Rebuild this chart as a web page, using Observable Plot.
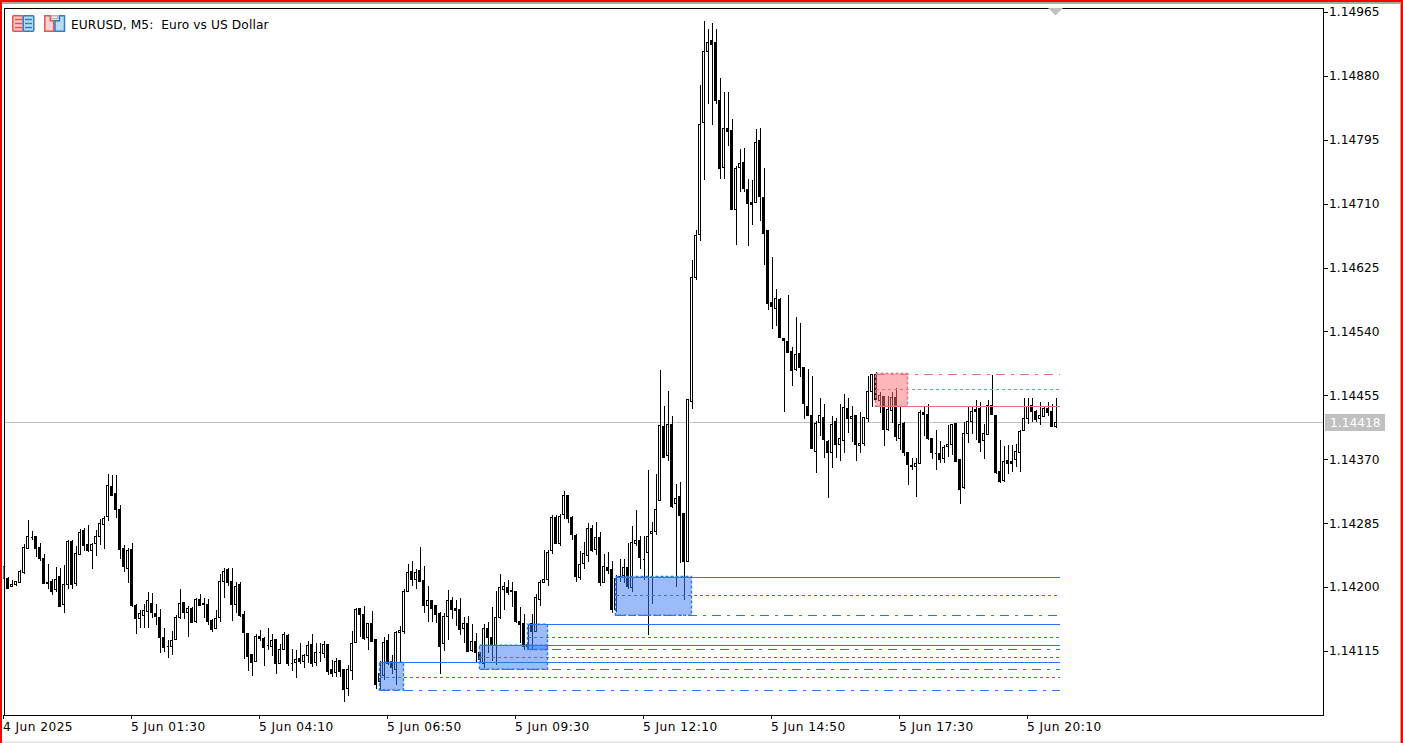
<!DOCTYPE html>
<html><head><meta charset="utf-8">
<style>
html,body{margin:0;padding:0;background:#fff;overflow:hidden}
#wrap{position:relative;width:1403px;height:743px;font-family:"DejaVu Sans",sans-serif}
#wrap svg{display:block}
.edge{position:absolute}
#title{position:absolute;left:71px;top:16.500px;font:12.2px/16px "DejaVu Sans",sans-serif;letter-spacing:.1px;color:#000;white-space:pre}
#icons{position:absolute;left:10px;top:13px}
#chart [aria-label="x-axis tick label"] text{letter-spacing:.45px}
</style>
<script src="https://cdn.jsdelivr.net/npm/d3@7"></script>
<script src="https://cdn.jsdelivr.net/npm/@observablehq/plot@0.6"></script>
</head><body>
<div id="wrap">
<div id="chart"></div>
<div class="edge" style="left:0;top:0;width:1403px;height:2px;background:#f00"></div>
<div class="edge" style="left:0;top:2px;width:1403px;height:2px;background:#a8a8a8"></div>
<div class="edge" style="left:0;top:0;width:2px;height:743px;background:#f00"></div>
<div class="edge" style="left:1401px;top:0;width:2px;height:743px;background:#f00"></div>
<div class="edge" style="left:1400px;top:2px;width:1px;height:741px;background:#a8a8a8"></div>
<div class="edge" style="left:2px;top:741px;width:1398px;height:2px;background:#e8e8e8"></div>
<svg id="icons" width="58" height="22" viewBox="0 0 58 22">
  <rect x="2.800" y="2.800" width="10.500" height="15.400" rx="1" fill="#fbc9c9" stroke="#e8504f" stroke-width="1.500"/>
  <rect x="13.300" y="2.800" width="10.500" height="15.400" rx="1" fill="#bcdaf5" stroke="#2b7fc4" stroke-width="1.500"/>
  <path d="M5 6.500h7M5 10.500h7M5 14.500h7" stroke="#e8504f" stroke-width="1.300"/><path d="M15 6.500h7M15 10.500h7M15 14.500h7" stroke="#2b7fc4" stroke-width="1.300"/>
  <path d="M34.800 2.800h5.500v5h3.500v10.400h-9z" fill="#fbd2d2" stroke="#e8504f" stroke-width="1.500"/>
  <path d="M49.500 2.800h5v15.400h-9.500v-10.400h4.500z" fill="#bcdaf5" stroke="#2b7fc4" stroke-width="1.500"/>
  <rect x="41" y="2.800" width="7" height="3" fill="#eee" stroke="#999"/>
</svg>
<div id="title">EURUSD, M5:  Euro vs US Dollar</div>
</div>
<script>
// All prices in points (0.00001) above 1.14000
const basePrice = 1.14, pointSize = 1e-5;
const open = [
228,212,201,203,206,220,251,267,267,253,
238,206,207,197,214,177,204,260,205,243,
275,257,248,258,267,283,294,334,324,303,
251,225,250,176,158,162,167,178,165,160,
133,121,121,130,159,180,166,172,154,184,
178,177,155,145,160,208,224,208,177,203,
163,138,110,101,134,132,123,121,130,98,
117,136,99,100,105,101,109,123,100,113,
111,123,90,86,102,90,65,89,126,172,
163,133,152,130,74,82,129,101,91,139,
141,194,221,210,222,209,175,182,175,165,
125,161,182,171,170,145,152,115,127,113,
98,145,133,122,159,197,200,196,194,154,
151,121,151,141,184,206,210,248,292,258,
297,322,293,269,213,232,242,278,250,266,
206,226,223,170,214,215,226,200,258,262,
238,246,271,274,315,414,375,416,311,321,
298,234,447,612,669,818,913,927,925,847,
758,810,808,702,758,765,729,711,711,794,
718,674,578,570,582,531,526,514,490,511,
492,440,428,381,419,426,394,379,420,389,
395,438,424,428,388,391,424,460,483,448,
454,410,435,452,397,417,379,362,361,365,
432,429,398,379,378,371,387,390,417,370,
332,404,420,436,438,395,403,442,428,354,
342,368,367,370,379,408,424,441,434,424,
427,438,433,413];
const high = [
230,213,210,208,223,257,289,275,267,258,
244,231,211,227,225,229,263,262,255,277,
278,283,258,276,290,295,351,349,349,309,
256,252,258,178,169,178,194,192,177,171,
145,129,141,163,197,180,175,174,185,191,
186,184,158,170,218,225,226,226,207,207,
168,138,110,138,143,133,146,138,131,124,
140,138,118,116,126,111,128,138,126,125,
128,123,103,106,102,90,97,141,172,172,
175,152,168,130,102,133,138,109,142,148,
197,231,235,224,253,228,202,182,175,167,
166,196,187,183,185,160,162,151,139,113,
151,154,174,195,218,207,209,207,194,174,
164,151,164,191,210,249,249,296,296,297,
328,323,295,270,248,260,285,283,287,273,
244,247,235,216,237,237,259,281,303,268,
268,356,287,351,489,441,461,428,337,340,
298,450,635,675,868,953,942,950,942,877,
858,858,823,760,783,784,743,741,809,810,
757,674,639,597,585,531,589,519,559,551,
492,490,481,421,452,443,396,427,425,443,
457,451,441,428,433,426,481,483,486,459,
454,454,460,465,440,419,379,372,372,436,
439,444,398,409,394,389,416,416,417,370,
419,441,440,449,446,417,449,482,428,396,
388,389,389,390,409,452,452,452,435,446,
439,446,444,452];
const low = [
209,198,201,202,206,217,251,262,240,235,
205,198,189,194,174,166,198,198,201,243,
248,247,224,241,256,251,288,321,292,238,
220,206,174,137,145,145,146,159,150,112,
113,105,109,129,157,158,133,152,152,175,
159,150,140,145,154,185,201,155,165,160,
104,88,82,101,128,95,116,108,84,98,
117,95,88,79,98,92,99,94,95,100,
106,83,80,80,81,47,55,76,126,133,
129,116,127,65,62,76,96,84,70,101,
138,194,201,197,207,166,153,154,152,84,
115,130,158,148,136,125,113,114,100,99,
92,112,102,96,158,170,189,174,152,125,
116,118,116,141,175,206,201,244,257,254,
291,285,263,207,209,224,234,246,243,201,
206,217,165,167,207,206,197,193,255,224,
209,136,178,269,315,373,368,305,200,232,
183,234,437,608,661,742,843,814,843,743,
743,787,702,655,726,725,654,681,711,687,
628,569,543,547,531,433,512,468,488,480,
424,428,384,352,401,372,318,359,372,368,
379,405,393,368,379,387,419,440,449,432,
387,408,418,394,383,374,336,356,320,365,
401,396,370,356,365,365,373,376,367,310,
331,392,404,396,380,370,402,429,351,339,
340,351,353,360,353,408,417,420,420,415,
427,428,413,412];
const close = [
211,198,204,207,221,252,267,267,251,238,
205,205,194,210,174,204,260,204,244,273,
255,249,257,267,285,291,335,322,303,250,
227,249,176,158,165,169,182,166,161,133,
120,121,129,160,178,166,172,153,184,176,
177,154,144,158,208,221,206,177,201,162,
139,108,100,134,131,120,123,129,98,117,
137,98,99,103,101,109,122,99,113,113,
123,88,85,101,88,64,91,125,170,163,
131,152,128,71,85,126,98,93,140,142,
194,220,210,220,207,175,182,171,164,121,
161,182,170,169,143,152,114,128,113,103,
145,133,122,160,200,201,193,194,154,150,
121,124,141,186,206,210,246,293,258,294,
322,291,270,214,230,245,278,249,266,206,
227,222,170,212,213,226,201,259,262,240,
238,267,274,303,415,373,416,307,318,295,
234,450,612,668,815,913,925,922,847,757,
810,806,702,757,764,730,710,709,792,719,
670,577,573,584,532,528,512,488,510,492,
444,428,384,418,428,396,379,416,389,398,
439,424,427,389,391,426,460,483,449,455,
409,436,452,400,416,379,363,360,365,432,
429,397,379,379,370,386,390,416,367,330,
404,420,434,434,392,404,441,429,353,341,
367,364,365,381,407,424,440,433,423,428,
438,432,413,419];

// Time axis: bar number and its label
const timeBars = [0,32,64,96,128,160,192,224,256];
const timeLabels = ["4 Jun 2025","5 Jun 01:30","5 Jun 04:10","5 Jun 06:50","5 Jun 09:30","5 Jun 12:10","5 Jun 14:50","5 Jun 17:30","5 Jun 20:10"];
// Price axis
const priceTicks = [1.14965,1.1488,1.14795,1.1471,1.14625,1.1454,1.14455,1.1437,1.14285,1.142,1.14115];
const lastPriceLabel = "1.14418";

// Zones (bar range + three levels in points)
const zoneStart  = [94,119,131,153,218];
const zoneEnd    = [100,136,136,172,226];
const zoneTop    = [100,122.6,150.5,214,484];
const zoneMid    = [81,106.6,133,189,463];
const zoneBottom = [63,90.7,117,162.5,440.5];
const zoneKind   = ["demand","demand","demand","demand","supply"];
const levelsEnd = 264;

const colours = {demand:{fill:"#3a78f2",line:"#2a76f2"},supply:{fill:"#ff6e78",line:"#f0707a"}};
const px = p => basePrice + p*pointSize;

const bars = open.map((o,i)=>({i,o:px(o),h:px(high[i]),l:px(low[i]),c:px(close[i]),up:close[i]>o,flat:close[i]===o}));
const zones = zoneStart.map((s,k)=>({s,e:zoneEnd[k],top:px(zoneTop[k]),mid:px(zoneMid[k]),bot:px(zoneBottom[k]),kind:zoneKind[k],
  solid:zoneKind[k]==="demand"?px(zoneTop[k]):px(zoneBottom[k]),
  dashdot:zoneKind[k]==="demand"?px(zoneBottom[k]):px(zoneTop[k])}));
const last = bars[bars.length-1];
const zoneColour = d=>colours[d.kind].line;

const FONT = '"DejaVu Sans",sans-serif';
const chart = Plot.plot({
  width:1403,height:743,
  marginLeft:3.5,marginRight:80.5,marginTop:7.5,marginBottom:28.5,
  style:{background:"#fff",fontFamily:FONT,fontSize:"12.2px",color:"#000"},
  x:{type:"linear",domain:[0,329.75],axis:null},
  y:{type:"linear",domain:[1.140305,1.1497095],axis:null},
  marks:[
    Plot.ruleY([last.c],{stroke:"#c0c0c0",strokeWidth:1,shapeRendering:"crispEdges"}),
    Plot.ruleX(bars,{x:"i",y1:"l",y2:"h",stroke:"#000",strokeWidth:1,clip:"frame",shapeRendering:"crispEdges"}),
    Plot.rect(bars.filter(d=>!d.flat),{x1:d=>d.i-0.25,x2:d=>d.i+0.25,y1:"o",y2:"c",
      fill:d=>d.up?"#fff":"#000",stroke:"#000",strokeWidth:1,clip:"frame",shapeRendering:"crispEdges"}),
    Plot.ruleY(bars.filter(d=>d.flat),{y:"c",x1:d=>d.i-0.25,x2:d=>d.i+0.25,stroke:"#000",strokeWidth:1,clip:"frame",shapeRendering:"crispEdges"}),
    // zones
    Plot.rect(zones,{x1:"s",x2:"e",y1:"bot",y2:"top",fill:d=>colours[d.kind].fill,fillOpacity:0.5}),
    Plot.rect(zones,{x1:"s",x2:"e",y1:"bot",y2:"top",fill:"none",stroke:zoneColour,strokeWidth:1.4,strokeDasharray:"3,2"}),
    Plot.ruleY(zones,{y:"solid",x1:"s",x2:()=>levelsEnd,stroke:zoneColour,strokeWidth:1,shapeRendering:"crispEdges"}),
    Plot.ruleY(zones,{y:"mid",x1:"s",x2:()=>levelsEnd,stroke:zoneColour,strokeWidth:1,strokeDasharray:"3,3",shapeRendering:"crispEdges"}),
    Plot.ruleY(zones,{y:"dashdot",x1:"s",x2:()=>levelsEnd,stroke:zoneColour,strokeWidth:1,strokeDasharray:"9,6,3,6",shapeRendering:"crispEdges"}),
    Plot.frame({stroke:"#000",strokeWidth:1,shapeRendering:"crispEdges"}),
    Plot.axisX(timeBars,{anchor:"bottom",tickSize:4,tickPadding:3,textAnchor:"start",dx:-1,
      tickFormat:d=>timeLabels[timeBars.indexOf(d)],fill:"#000",stroke:"#000",fontSize:12.2,shapeRendering:"crispEdges",label:null}),
    Plot.axisY(priceTicks,{anchor:"right",tickSize:4,tickPadding:2,
      tickFormat:d=>d.toFixed(5),fill:"#000",stroke:"#000",fontSize:12.2,shapeRendering:"crispEdges",label:null}),
    // last-price tag and the chart-shift marker
    (index,scales)=>{
      const y=Math.floor(scales.y(last.c));
      const g=d3.create("svg:g");
      g.append("rect").attr("x",1325).attr("y",y-8).attr("width",60).attr("height",17).attr("fill","#c0c0c0");
      g.append("text").attr("x",1330).attr("y",y+5).attr("fill","#fff").attr("font-size",12.2).attr("text-anchor","start").style("text-anchor","start").text(lastPriceLabel);
      g.append("path").attr("d","M1048 8H1063L1055.500 15.500Z").attr("fill","#c0c0c0");
      return g.node();
    }
  ]
});
document.getElementById("chart").appendChild(chart);
</script>
</body></html>
